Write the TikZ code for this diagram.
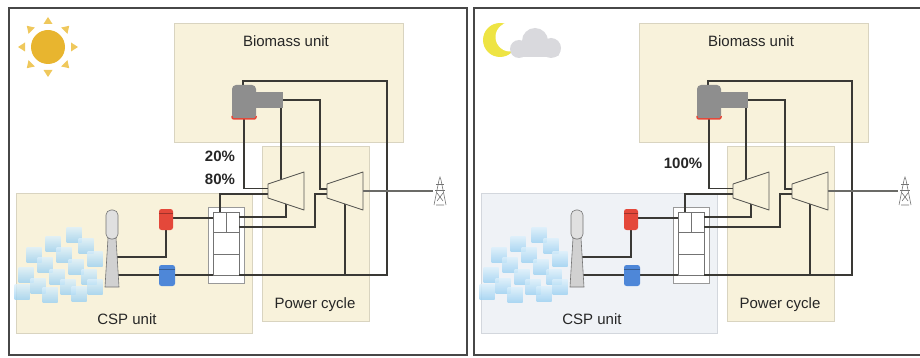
\documentclass[tikz,border=0pt]{standalone}
\usepackage{fontspec}
\setmainfont{Liberation Sans}
\usetikzlibrary{positioning}

\definecolor{unitfill}{HTML}{F8F2DB}
\definecolor{unitedge}{HTML}{D9D4C0}
\definecolor{nightfill}{HTML}{EFF2F6}
\definecolor{nightedge}{HTML}{D3D7DD}
\definecolor{pipeline}{HTML}{3A3935}
\definecolor{boilergray}{HTML}{8E8E8E}
\definecolor{hotsalt}{HTML}{E4483A}
\definecolor{coldsalt}{HTML}{4E87D8}
\definecolor{mirrortop}{HTML}{DAEFFB}
\definecolor{mirrorbot}{HTML}{9AD0F2}
\definecolor{sundisk}{HTML}{E8B52F}
\definecolor{sunray}{HTML}{EFC85C}
\definecolor{moonyellow}{HTML}{EEE443}
\definecolor{cloudgray}{HTML}{D9D9DD}

\tikzset{
  unitbox/.style={draw=unitedge, line width=0.9pt, fill=unitfill, inner sep=0pt, anchor=north west},
  frame/.style={inner sep=0pt, outer sep=0pt},
  pipe/.style={draw=pipeline, line width=1.8pt},
  title/.style={font=\fontsize{15}{18}\selectfont, text=black!85, anchor=base},
  share/.style={font=\fontsize{15}{18}\selectfont\bfseries, text=black!85, anchor=base},
  tank/.style={rounded corners=2.5pt, inner sep=0pt, minimum height=21pt},
  blade/.style={draw=pipeline!85, line width=0.8pt, fill=unitfill, line join=round},
  panel/.style={draw=black!72, line width=2pt},
}

% one hybrid plant, drawn in px-like units
\newcommand\plantscheme[2]{%
  \node[unitbox, minimum width=229pt, minimum height=119pt] (biomass) at (174,23) {};
  \node[unitbox, minimum width=107pt, minimum height=175pt] (power) at (262,146) {};
  \node[unitbox, fill=#1, draw=#2, minimum width=236pt, minimum height=140pt] (csp) at (16,193) {};
  \node[title] (biomass-label) at (286,47) {Biomass unit};
  \node[title] (power-label) at (315,308) {Power cycle};
  \node[title] (csp-label) at (127,324) {CSP unit};

  % heliostat field
  \foreach \hx/\hy in {74/235, 53/244, 86/246, 34/255, 64/255, 95/259,
                       45/265, 76/267, 26/275, 57/277, 89/277,
                       38/286, 68/287, 95/287, 50/295, 79/294, 22/292}
    \shade[top color=mirrortop, bottom color=mirrorbot, opacity=0.8]
      (\hx-7.5,\hy-7.5) rectangle +(15,15);

  % storage block
  \node[frame, draw=black!40, fill=white, line width=0.8pt, minimum width=36pt, minimum height=76pt] (store) at (226,245) {};
  \node[frame, draw=black!55, line width=0.8pt, minimum width=26pt, minimum height=63pt] (cells) at (226,243.5) {};
  \draw[black!55, line width=0.8pt] (cells.north) -- ++(0,20)
    ([yshift=-20pt]cells.north west) -- ([yshift=-20pt]cells.north east)
    ([yshift=-42pt]cells.north west) -- ([yshift=-42pt]cells.north east);

  \node[frame, minimum width=24pt, minimum height=34pt] (boiler) at (244,102) {};
  \node[frame, minimum width=28pt, minimum height=16pt, anchor=west] (duct) at (255,100) {};
  \node[frame, minimum width=36pt, minimum height=38pt] (hpt) at (286,191) {};
  \node[frame, minimum width=36pt, minimum height=38pt] (lpt) at (345,191) {};
  \node[frame, minimum width=14pt, minimum height=77pt] (tower) at (112,248.5) {};
  \node[frame, minimum width=14pt, minimum height=28pt] (grid) at (440,191) {};

  % pipes
  \draw[pipe] ([xshift=-1pt]boiler.north) |- (387,81) |- (cells.south east);
  \draw[pipe] (duct.east) -| ([xshift=-7pt,yshift=2pt]lpt.west) -- ([yshift=2pt]lpt.west);
  \draw[pipe] (boiler.south) |- ([yshift=2.5pt]hpt.west);
  \draw[pipe] ([xshift=-2pt]duct.south east) -- ++(0,74);
  \draw[pipe] ([xshift=-6pt]cells.north) |- ([yshift=-3pt]hpt.west);
  \draw[pipe] (hpt.center) |- ([yshift=-5pt]cells.north east);
  \draw[pipe] ([yshift=-3pt]lpt.west) -- ++(-12,0) |- ([yshift=-15pt]cells.north east);
  \draw[pipe] (lpt.center) -- (lpt.center |- cells.south);
  \draw[pipe, draw=pipeline!75, line width=1.3pt] (lpt.center) -- (grid);
  \draw[pipe] ([yshift=-8.5pt]tower.center) -| (166,218) -- (cells.west |- 0,218);
  \draw[pipe] ([yshift=-26.5pt]tower.center) -- (cells.south west);

  % turbines
  \foreach \t in {hpt,lpt}
    \filldraw[blade] ([yshift=-12pt]\t.north west) -- (\t.north east)
      -- (\t.south east) -- ([yshift=12pt]\t.south west) -- cycle;

  % boiler
  \fill[boilergray] (duct.north west) rectangle (duct.south east);
  \fill[boilergray, rounded corners=4pt] (boiler.north west) rectangle (boiler.south east);
  \draw[hotsalt, line width=1.5pt, rounded corners=2pt]
    ([yshift=3pt]boiler.south west) -- (boiler.south west) -- (boiler.south east) -- ([yshift=3pt]boiler.south east);

  % salt tanks
  \node[tank, fill=hotsalt, minimum width=14pt] (hot) at (166,219.5) {};
  \node[tank, fill=coldsalt, minimum width=16pt] (cold) at (167,275.5) {};
  \draw[hotsalt!70!black, line width=0.5pt] ([yshift=-4pt]hot.north west) -- ([yshift=-4pt]hot.north east);
  \draw[coldsalt!70!black, line width=0.5pt] ([yshift=-4pt]cold.north west) -- ([yshift=-4pt]cold.north east);

  % receiver tower
  \filldraw[fill=black!18, draw=black!55, line width=0.6pt]
    (tower.south west) -- ([xshift=3pt,yshift=-28pt]tower.north west)
    -- ([xshift=-3pt,yshift=-28pt]tower.north east) -- (tower.south east) -- cycle;
  \filldraw[fill=black!12, draw=black!55, line width=0.6pt, rounded corners=5pt]
    ([xshift=1pt]tower.north west) rectangle ([xshift=-1pt,yshift=-29pt]tower.north east);

  % grid pylon
  \begin{scope}[shift={(grid.center)}, black!55, line width=0.6pt]
    \draw (-6,14) -- (-1,-11) -- (0,-14) -- (1,-11) -- (6,14);
    \draw (-4,-7) -- (4,-7) (-5,-1) -- (5,-1);
    \draw (-3,2) -- (3,10) (3,2) -- (-3,10) (-4,14) -- (4,14);
  \end{scope}
}

\begin{document}
\begin{tikzpicture}[x=1pt, y=-1pt]
  \useasboundingbox (0,0) rectangle (920,358);

  \begin{scope}[name prefix=day-]
    \plantscheme{unitfill}{unitedge}
    \node[share] (split-biomass) at (220,162) {20\%};
    \node[share] (split-csp) at (220,184) {80\%};
    % sun
    \begin{scope}[shift={(48,47)}]
      \foreach \a in {0,45,...,315}
        \fill[sunray, rotate=\a] (23,-4.5) -- (30,0) -- (23,4.5) -- cycle;
      \fill[sundisk] (0,0) circle (17);
    \end{scope}
  \end{scope}

  \begin{scope}[xshift=465pt, name prefix=night-]
    \plantscheme{nightfill}{nightedge}
    \node[share] (split-biomass) at (218,168) {100\%};
    % moon behind a cloud
    \fill[moonyellow] (35,40) circle (17);
    \fill[white] (45,37) circle (14.5);
    \fill[cloudgray] (70,41) circle (13) (54,49) circle (9) (86,48) circle (10);
    \fill[cloudgray, rounded corners=5pt] (47,44) rectangle (95,57);
  \end{scope}

  \draw[panel] (9,8) rectangle (467,355);
  \draw[panel] (474,8) rectangle (932,355);
\end{tikzpicture}
\end{document}
